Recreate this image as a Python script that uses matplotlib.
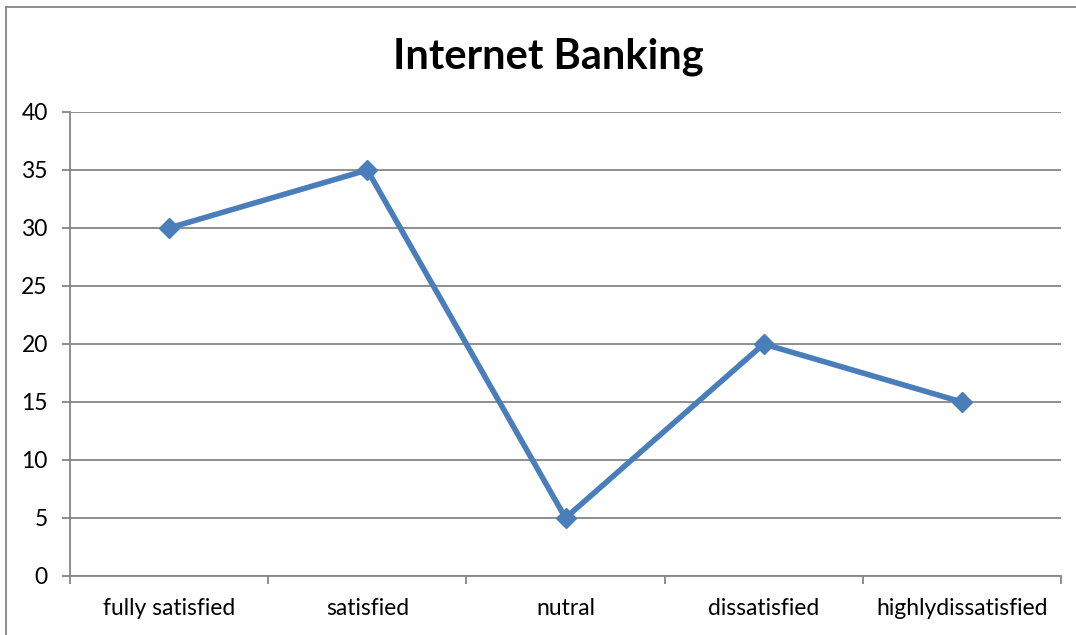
import matplotlib.pyplot as plt
from matplotlib.lines import Line2D

categories = ['fully satisfied', 'satisfied', 'nutral', 'dissatisfied', 'highlydissatisfied']
values = [30, 35, 5, 20, 15]
yticks = [0, 5, 10, 15, 20, 25, 30, 35, 40]

plt.rcParams['font.family'] = ['Lato', 'DejaVu Sans']

W, H = 1076, 635
fig = plt.figure(figsize=(W / 100, H / 100), dpi=100)
ax = fig.add_axes([70 / W, 1 - 576 / H, (1061 - 70) / W, (576 - 112) / H])

grid_col = '#868686'
x = range(len(categories))
ax.plot(x, values, color='#4A7EBB', lw=4, marker='D', markersize=10.5,
        markeredgecolor='#4A7EBB', solid_joinstyle='miter', zorder=3)

ax.set_xlim(-0.5, len(categories) - 0.5)
ax.set_ylim(0, 40)
ax.set_yticks(yticks)
ax.yaxis.grid(True, color=grid_col, lw=1.3)
ax.set_axisbelow(True)

# category labels centred, tick marks on the boundaries
ax.set_xticks(list(x))
ax.set_xticklabels(categories, fontsize=16.5)
ax.set_xticks([i - 0.5 for i in range(len(categories) + 1)], minor=True)
ax.tick_params(axis='x', which='major', length=0, pad=16)
ax.tick_params(axis='x', which='minor', length=6, color=grid_col, width=1.3, direction='out')
ax.tick_params(axis='y', length=6, color=grid_col, width=1.3, labelsize=16.5, pad=10)

for s in ['top', 'right']:
    ax.spines[s].set_visible(False)
for s in ['left', 'bottom']:
    ax.spines[s].set_color(grid_col)
    ax.spines[s].set_linewidth(1.3)

fig.text(548 / W, 1 - 57 / H, 'Internet Banking', ha='center', va='center',
         fontsize=30, fontweight='bold')

# chart frame (cut off on the right and bottom)
fig.add_artist(Line2D([6 / W, 6 / W], [0, 1 - 7 / H], color=grid_col, lw=1.3))
fig.add_artist(Line2D([6 / W, 1], [1 - 7 / H, 1 - 7 / H], color=grid_col, lw=1.3))

fig.savefig('out.png', dpi=100)
